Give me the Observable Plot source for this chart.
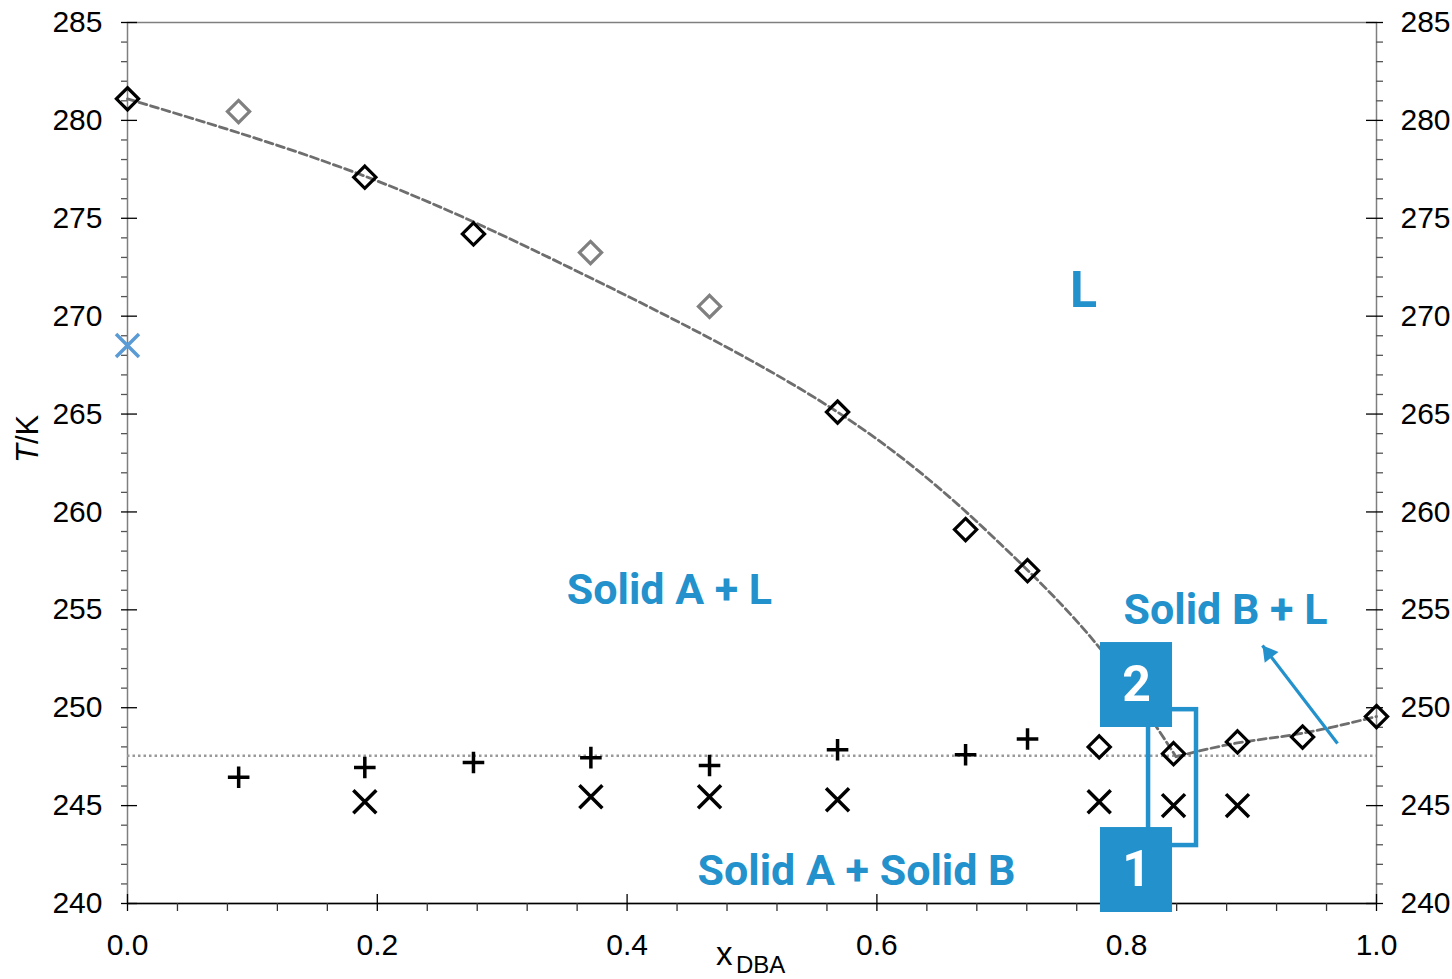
<!DOCTYPE html>
<html><head><meta charset="utf-8">
<script src="https://cdn.jsdelivr.net/npm/d3@7"></script>
<script src="https://cdn.jsdelivr.net/npm/@observablehq/plot@0.6"></script>
<style>body{margin:0;background:#fff;}</style>
</head><body><div id="chart"></div>
<script>
// ---- data ----
const liqX = [0, 0.19, 0.277, 0.5685, 0.671, 0.7206, 0.778, 0.8375, 0.8887, 0.9408, 1.0];
const liqT = [281.1, 277.1, 274.2, 265.1, 259.1, 257.0, 248.0, 247.65, 248.25, 248.5, 249.55];
const greyX = [0.0889, 0.3707, 0.466];
const greyT = [280.45, 273.25, 270.5];
const blueX = [0];
const blueT = [268.5];
const plusX = [0.089, 0.19, 0.277, 0.371, 0.466, 0.5685, 0.671, 0.7206];
const plusT = [246.45, 246.95, 247.2, 247.45, 247.05, 247.85, 247.6, 248.4];
const crossX = [0.19, 0.371, 0.466, 0.5685, 0.778, 0.8375, 0.8887];
const crossT = [245.2, 245.45, 245.45, 245.3, 245.2, 245.0, 245.0];
const eutecticT = [247.55];
const fitLeftX = [0, 0.19, 0.371, 0.5685, 0.70, 0.779, 0.8395];
const fitLeftT = [281.1, 277.15, 271.95, 265.1, 258.3, 253.0, 247.5];
const fitRightX = [0.8395, 0.8887, 0.9408, 1.0];
const fitRightT = [247.5, 248.2, 248.7, 249.55];
const yMajor = [240, 245, 250, 255, 260, 265, 270, 275, 280, 285];
const xMajor = [0, 0.2, 0.4, 0.6, 0.8, 1.0];
const regionLabels = ["Solid A + L", "Solid B + L", "Solid A + Solid B"];
const regionX = [0.4339, 0.8791, 0.5837];
const regionT = [256.0, 255.0, 241.65];
const liquidLabel = ["L"];
const liquidX = [0.7654];
const liquidT = [271.3];
const boxLabels = ["2", "1"];
const boxX1 = [0.779, 0.779];
const boxX2 = [0.8367, 0.8367];
const boxT1 = [248.99, 239.54];
const boxT2 = [253.33, 243.88];
const bracketX = [0.8175, 0.8559];
const bracketT = [242.96, 249.9];
const arrowFrom = [0.9688, 248.17];
const arrowTo = [0.9087, 253.18];

// ---- helpers ----
const zipXY = (xs, ys) => xs.map((x, i) => ({x, y: ys[i]}));
const yMinor = d3.range(240, 286).filter(d => d % 5 !== 0);
const xMinor = d3.range(0, 26).filter(i => i % 5 !== 0).map(i => i * 0.04);
const W = 1452, H = 979, mL = 127, mR = 76, mT = 22, mB = 76;
const pw = W - mL - mR, ph = H - mT - mB;
const blue = "#2391cb";
const annFont = "Roboto, 'Open Sans', sans-serif";

const boxes = boxLabels.map((t, i) => ({t, x1: boxX1[i], x2: boxX2[i], y1: boxT1[i], y2: boxT2[i]}));
const regions = regionLabels.map((t, i) => ({t, x: regionX[i], y: regionT[i]}));

const plot = Plot.plot({
  width: W, height: H,
  marginLeft: mL, marginRight: mR, marginTop: mT, marginBottom: mB,
  x: {domain: [0, 1]},
  y: {domain: [240, 285]},
  style: {fontFamily: "'Liberation Sans', Arial, sans-serif", fontSize: "30px", color: "black", background: "white", overflow: "visible"},
  marks: [
    Plot.frame({stroke: "#7f7f7f", strokeWidth: 1.5}),
    Plot.ruleY([240], {stroke: "black", strokeWidth: 1.5}),
    // left ticks
    Plot.tickY(yMinor, {y: d => d, insetLeft: -6, insetRight: pw, stroke: "#555", strokeWidth: 1.3}),
    Plot.tickY(yMajor, {y: d => d, insetLeft: -6, insetRight: pw - 10, stroke: "black", strokeWidth: 1.3}),
    // right ticks
    Plot.tickY(yMinor, {y: d => d, insetRight: -7, insetLeft: pw, stroke: "#555", strokeWidth: 1.3}),
    Plot.tickY(yMajor, {y: d => d, insetRight: -7, insetLeft: pw - 10, stroke: "black", strokeWidth: 1.3}),
    // bottom ticks
    Plot.tickX(xMinor, {x: d => d, insetBottom: -8, insetTop: ph, stroke: "#333", strokeWidth: 1.3}),
    Plot.tickX(xMajor, {x: d => d, insetBottom: -8, insetTop: ph - 9, stroke: "black", strokeWidth: 1.3}),
    Plot.axisY(yMajor, {anchor: "left", tickSize: 0, tickPadding: 25, label: null, fontSize: 30}),
    Plot.axisY(yMajor, {anchor: "right", tickSize: 0, tickPadding: 24, label: null, fontSize: 30}),
    Plot.axisX(xMajor, {anchor: "bottom", tickSize: 0, tickPadding: 30, label: null, fontSize: 30, tickFormat: d3.format(".1f")}),
    // axis titles
    Plot.text(["T/K"], {frameAnchor: "left", dx: -99, rotate: -90, fontSize: 31, text: d => d}),
    Plot.text(["x"], {frameAnchor: "bottom", dx: -36, dy: 51, textAnchor: "start", lineAnchor: "middle", fontSize: 33, text: d => d}),
    Plot.text(["DBA"], {frameAnchor: "bottom", dx: -16, dy: 62, textAnchor: "start", lineAnchor: "middle", fontSize: 24, text: d => d}),
    // eutectic line
    Plot.ruleY(eutecticT, {stroke: "#999", strokeWidth: 2.5, strokeDasharray: "2.5,3"}),
    // fitted curves
    Plot.line(zipXY(fitLeftX, fitLeftT), {x: "x", y: "y", curve: "natural", stroke: "#6e6e6e", strokeWidth: 2.8, strokeDasharray: "8,4"}),
    Plot.line(zipXY(fitRightX, fitRightT), {x: "x", y: "y", curve: "natural", stroke: "#6e6e6e", strokeWidth: 2.8, strokeDasharray: "8,4"}),
    // bracket and boxes
    Plot.rect([{x1: bracketX[0], x2: bracketX[1], y1: bracketT[0], y2: bracketT[1]}], {x1: "x1", x2: "x2", y1: "y1", y2: "y2", fill: "none", stroke: blue, strokeWidth: 4.5}),
    Plot.rect(boxes, {x1: "x1", x2: "x2", y1: "y1", y2: "y2", fill: blue}),
    Plot.text(boxes, {x: d => (d.x1 + d.x2) / 2, y: d => (d.y1 + d.y2) / 2, text: "t", fill: "white", fontSize: 50, fontWeight: "bold", fontFamily: annFont, lineAnchor: "middle"}),
    // points
    Plot.dot(zipXY(greyX, greyT), {x: "x", y: "y", symbol: "diamond2", r: 10, stroke: "#808080", strokeWidth: 3.2, fill: "none"}),
    Plot.dot(zipXY(liqX, liqT), {x: "x", y: "y", symbol: "diamond2", r: 10, stroke: "black", strokeWidth: 3.2, fill: "none"}),
    Plot.dot(zipXY(plusX, plusT), {x: "x", y: "y", symbol: "plus", r: 7, stroke: "black", strokeWidth: 3.5}),
    Plot.dot(zipXY(crossX, crossT), {x: "x", y: "y", symbol: "times", r: 10.5, stroke: "black", strokeWidth: 3.5}),
    Plot.dot(zipXY(blueX, blueT), {x: "x", y: "y", symbol: "times", r: 10.5, stroke: "#5b9bd5", strokeWidth: 3.5}),
    // region labels
    Plot.text(regions, {x: "x", y: "y", text: "t", fill: blue, fontSize: 43, fontWeight: "bold", fontFamily: annFont, lineAnchor: "middle"}),
    Plot.text(liquidLabel.map((t, i) => ({t, x: liquidX[i], y: liquidT[i]})), {x: "x", y: "y", text: "t", fill: blue, fontSize: 50, fontWeight: "bold", fontFamily: annFont, lineAnchor: "middle"}),
    // arrow
    Plot.link([{x1: arrowFrom[0], y1: arrowFrom[1], x2: arrowTo[0], y2: arrowTo[1]}], {x1: "x1", y1: "y1", x2: "x2", y2: "y2", stroke: blue, strokeWidth: 3.2}),
    Plot.dot([{x: arrowTo[0], y: arrowTo[1]}], {x: "x", y: "y", symbol: "triangle2", r: 8.3, fill: blue, rotate: -37.4, dx: 6.1, dy: 7.9})
  ]
});
document.getElementById("chart").appendChild(plot);
// italic T in the y title
d3.select(plot).selectAll("text").filter(function() { return this.textContent === "T/K"; })
  .each(function() {
    const t = d3.select(this);
    t.text(null);
    t.append("tspan").attr("font-style", "italic").text("T");
    t.append("tspan").text("/K");
  });
</script>
</body></html>
